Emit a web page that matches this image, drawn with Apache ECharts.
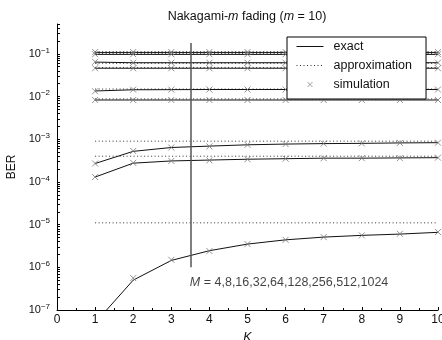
<!DOCTYPE html>
<html><head><meta charset="utf-8">
<script src="https://cdn.jsdelivr.net/npm/echarts@6/dist/echarts.min.js"></script>
<style>html,body{margin:0;padding:0;background:#fff}#c{width:442px;height:340px}</style>
</head><body><div id="c"></div>
<script>
// ---- data ----
const K = [1, 2, 3, 4, 5, 6, 7, 8, 9, 10];
const M = [4, 8, 16, 32, 64, 128, 256, 512, 1024];
const exact_M4    = [5.0e-8, 5.0e-7, 1.45e-6, 2.45e-6, 3.5e-6, 4.4e-6, 5.1e-6, 5.6e-6, 6.0e-6, 6.6e-6];
const exact_M8    = [1.3e-4, 2.75e-4, 3.1e-4, 3.25e-4, 3.4e-4, 3.5e-4, 3.6e-4, 3.6e-4, 3.65e-4, 3.7e-4];
const exact_M16   = [2.7e-4, 5.2e-4, 6.4e-4, 6.9e-4, 7.4e-4, 7.7e-4, 7.9e-4, 8.0e-4, 8.2e-4, 8.3e-4];
const exact_M32   = [0.0083, 0.0083, 0.0083, 0.0083, 0.0083, 0.0083, 0.0083, 0.0083, 0.0083, 0.0083];
const exact_M64   = [0.0135, 0.0144, 0.0145, 0.0146, 0.0146, 0.0146, 0.0146, 0.0146, 0.0146, 0.0146];
const exact_M128  = [0.046, 0.046, 0.046, 0.046, 0.046, 0.046, 0.046, 0.046, 0.046, 0.046];
const exact_M256  = [0.064, 0.062, 0.062, 0.062, 0.062, 0.062, 0.062, 0.062, 0.062, 0.062];
const exact_M512  = [0.097, 0.097, 0.097, 0.097, 0.097, 0.097, 0.097, 0.097, 0.097, 0.097];
const exact_M1024 = [0.108, 0.108, 0.108, 0.108, 0.108, 0.108, 0.108, 0.108, 0.108, 0.108];

const sim_M4    = [4.0e-8, 5.6e-7, 1.5e-6, 2.4e-6, 3.5e-6, 4.4e-6, 5.1e-6, 5.6e-6, 6.1e-6, 6.7e-6];
const sim_M8    = [1.3e-4, 2.8e-4, 3.1e-4, 3.2e-4, 3.4e-4, 3.5e-4, 3.6e-4, 3.6e-4, 3.6e-4, 3.7e-4];
const sim_M16   = [2.7e-4, 5.3e-4, 6.4e-4, 6.8e-4, 7.4e-4, 7.7e-4, 7.9e-4, 8.0e-4, 8.2e-4, 8.3e-4];
const sim_M32   = [0.0083, 0.0083, 0.0083, 0.0083, 0.0083, 0.0083, 0.0083, 0.0083, 0.0083, 0.0083];
const sim_M64   = [0.0133, 0.0145, 0.0145, 0.0146, 0.0146, 0.0146, 0.0146, 0.0146, 0.0146, 0.0146];
const sim_M128  = [0.046, 0.046, 0.046, 0.046, 0.046, 0.046, 0.046, 0.046, 0.046, 0.046];
const sim_M256  = [0.065, 0.062, 0.062, 0.062, 0.062, 0.062, 0.062, 0.062, 0.062, 0.062];
const sim_M512  = [0.098, 0.098, 0.098, 0.098, 0.098, 0.098, 0.098, 0.098, 0.098, 0.098];
const sim_M1024 = [0.110, 0.110, 0.110, 0.110, 0.110, 0.110, 0.110, 0.110, 0.110, 0.110];

const approx = [1.1e-5, 4.0e-4, 9.0e-4, 0.0088, 0.0150, 0.048, 0.060, 0.102, 0.112];

const yTickLabels = [1e-7, 1e-6, 1e-5, 1e-4, 1e-3, 1e-2, 1e-1];
const xTickLabels = [0, 1, 2, 3, 4, 5, 6, 7, 8, 9, 10];

const titleText = 'Nakagami-{i|m} fading ({i|m} = 10)';
const annotText = '{i|M} = ' + M.join(',');
const arrowK = 3.5, arrowFrom = 1e-6, arrowTo = 0.18;

// ---- chart ----
const exact = [exact_M4, exact_M8, exact_M16, exact_M32, exact_M64, exact_M128, exact_M256, exact_M512, exact_M1024];
const sim = [sim_M4, sim_M8, sim_M16, sim_M32, sim_M64, sim_M128, sim_M256, sim_M512, sim_M1024];
const FONT = 'Liberation Sans, Arial, Helvetica, sans-serif';
const CROSS = 'path://M-5,-5M0,0L10,10M10,0L0,10M15,15';

const minorTicks = [];
for (let e = -7; e <= -1; e++) {
  for (let k = 1; k <= 9; k++) minorTicks.push(k * Math.pow(10, e));
}
[0.2, 0.3, 0.4, 0.5].forEach(v => minorTicks.push(v));

const series = [];
exact.forEach(arr => series.push({
  type: 'line', name: 'exact', data: K.map((k, i) => [k, arr[i]]),
  symbol: 'none', lineStyle: { color: '#111', width: 1 }, itemStyle: { color: '#111' },
  z: 2, silent: true, animation: false
}));
approx.forEach(a => series.push({
  type: 'line', name: 'approximation', data: K.map(k => [k, a]),
  symbol: 'none', lineStyle: { color: '#333', width: 1, type: [1, 2.5] }, itemStyle: { color: '#333' },
  z: 1, silent: true, animation: false
}));
sim.forEach(arr => series.push({
  type: 'scatter', name: 'simulation', data: K.map((k, i) => [k, arr[i]]),
  symbol: CROSS, symbolSize: 12, symbolKeepAspect: true,
  itemStyle: { color: 'transparent', borderColor: '#777', borderWidth: 1 },
  z: 2, silent: true, animation: false
}));
// arrow + annotation
series.push({
  type: 'scatter', name: 'annot', data: [[arrowK, arrowFrom]], symbolSize: 1,
  itemStyle: { color: 'transparent' }, silent: true, animation: false, z: 2,
  label: {
    show: true, position: [0, 9], align: 'left', verticalAlign: 'top',
    formatter: annotText, color: '#111', fontFamily: FONT, fontSize: 12.5,
    rich: { i: { fontStyle: 'italic', fontFamily: FONT, fontSize: 12.5, color: '#111' } }
  },
  markLine: {
    silent: true, animation: false, symbol: ['none', 'arrow'], symbolSize: [0, 6],
    lineStyle: { color: '#555', width: 1.5, type: 'solid' }, label: { show: false },
    data: [[{ coord: [arrowK, arrowFrom] }, { coord: [arrowK, arrowTo] }]]
  }
});

function yFmt(v) {
  const e = Math.round(Math.log10(v));
  if (Math.abs(Math.log10(v) - e) > 1e-6) return '';
  return '{b|10}{s|' + String(e).replace('-', '\u2212') + '}';
}

const chart = echarts.init(document.getElementById('c'), null, { renderer: 'canvas' });
chart.setOption({
  animation: false,
  backgroundColor: '#fff',
  graphic: [{
    type: 'text', x: 247, y: 17, z: 10,
    style: {
      text: titleText, align: 'center', verticalAlign: 'middle',
      fontFamily: FONT, fontSize: 12.5, fill: '#111',
      rich: { i: { fontStyle: 'italic', fontFamily: FONT, fontSize: 12.5, fill: '#111' } }
    }
  }],
  legend: {
    orient: 'vertical', left: 287, top: 37, padding: [3, 14, 8, 9], z: 10,
    itemWidth: 27, itemHeight: 10, itemGap: 6, selectedMode: false,
    backgroundColor: '#fff', borderColor: '#000', borderWidth: 1, borderRadius: 0,
    data: [
      { name: 'exact', itemStyle: { opacity: 0 }, lineStyle: { color: '#111', width: 1 } },
      { name: 'approximation', itemStyle: { opacity: 0 }, lineStyle: { color: '#333', width: 1, type: [1, 2.5] } },
      { name: 'simulation', icon: CROSS, itemStyle: { color: 'transparent', borderColor: '#888', borderWidth: 1 } }
    ],
    textStyle: { fontFamily: FONT, fontSize: 12.5, color: '#111', padding: [0, 0, 0, 5] }
  },
  grid: { left: 57, right: 4, top: 24, bottom: 30, containLabel: false, outerBoundsMode: 'none' },
  xAxis: {
    type: 'value', min: 0, max: 10, interval: 1,
    name: 'K', nameLocation: 'middle', nameGap: 18,
    nameTextStyle: { fontFamily: FONT, fontSize: 12.5, fontStyle: 'italic', color: '#111' },
    axisLine: { show: true, lineStyle: { color: '#000', width: 1 } },
    axisTick: { show: true, inside: true, length: 3, lineStyle: { color: '#000' } },
    minorTick: { show: true, splitNumber: 2, length: 2, lineStyle: { color: '#000' } },
    axisLabel: { fontFamily: FONT, fontSize: 12, color: '#111', margin: 4,
      formatter: v => xTickLabels.includes(v) ? String(v) : '' },
    splitLine: { show: false }
  },
  yAxis: {
    type: 'log', logBase: 10, min: 1e-7, max: 0.5,
    name: 'BER', nameLocation: 'middle', nameGap: 39,
    nameTextStyle: { fontFamily: FONT, fontSize: 12, color: '#111' },
    axisLine: { show: true, lineStyle: { color: '#000', width: 1 } },
    axisTick: { show: true, inside: true, length: 3, lineStyle: { color: '#000' }, customValues: minorTicks },
    minorTick: { show: false },
    axisLabel: {
      customValues: yTickLabels, formatter: yFmt, margin: 7, color: '#111',
      rich: {
        b: { fontFamily: FONT, fontSize: 11, color: '#111' },
        s: { fontFamily: FONT, fontSize: 8, color: '#111', padding: [0, 0, 7, 0] }
      }
    },
    splitLine: { show: false }
  },
  series: series
});
</script>
</body></html>
